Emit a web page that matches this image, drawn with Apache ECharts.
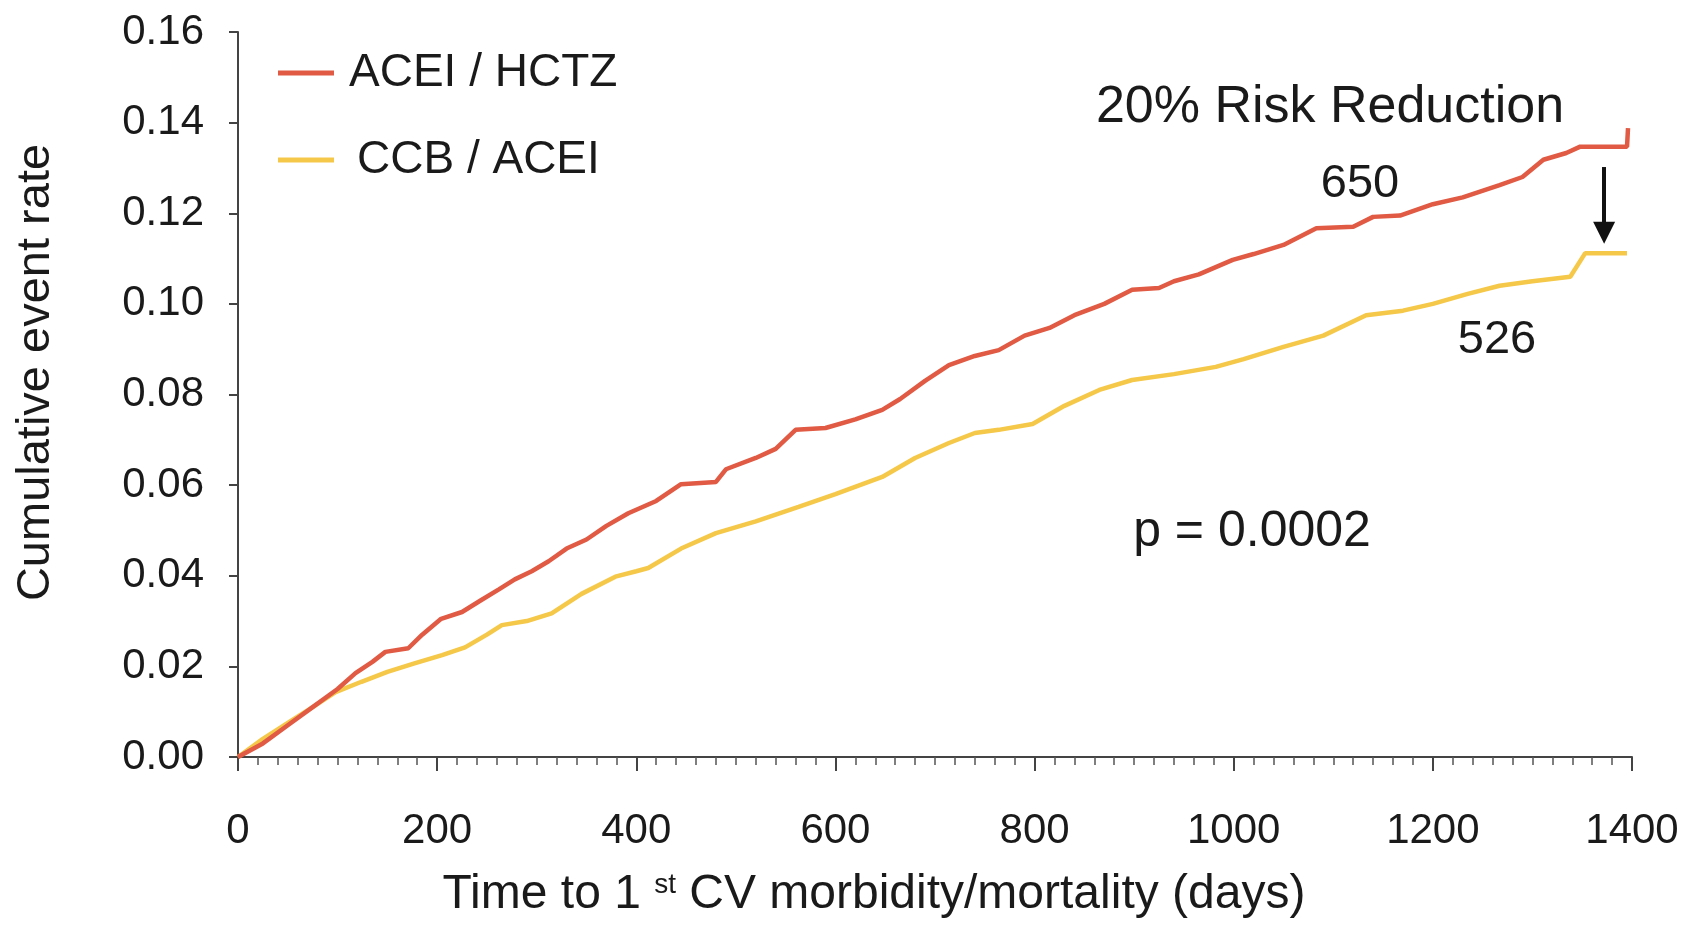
<!DOCTYPE html>
<html>
<head>
<meta charset="utf-8">
<title>Cumulative event rate</title>
<script src="https://cdn.jsdelivr.net/npm/echarts@6/dist/echarts.min.js"></script>
<style>
  html, body { margin: 0; padding: 0; background: #ffffff; }
  #chart { width: 1693px; height: 928px; }
</style>
</head>
<body>
<div id="chart"></div>
<script>
// Cumulative event rates over follow-up for two treatment arms
const seriesNames = ['ACEI / HCTZ', 'CCB / ACEI'];

const daysHCTZ = [0, 25, 50, 75, 100, 118, 135, 148, 171, 185, 204, 225, 244, 262, 278, 295, 312, 330, 350, 370,
  392, 420, 445, 480, 490, 520, 540, 560, 590, 620, 647, 665, 690, 714, 740, 764, 790, 815, 840, 870,
  898, 925, 940, 965, 999, 1020, 1050, 1083, 1120, 1140, 1167, 1200, 1230, 1267, 1290, 1311, 1334, 1348, 1395, 1396];
const rateHCTZ = [0, 0.003, 0.007, 0.011, 0.0150, 0.0185, 0.0210, 0.0232, 0.0240, 0.0270, 0.0305, 0.0320, 0.0346, 0.0370, 0.0392, 0.0410, 0.0432, 0.0460, 0.0480, 0.0510,
  0.0538, 0.0565, 0.0602, 0.0607, 0.0635, 0.0660, 0.0680, 0.0722, 0.0726, 0.0745, 0.0766, 0.0790, 0.0830, 0.0865, 0.0885, 0.0898, 0.0930, 0.0947, 0.0975, 0.1000,
  0.1031, 0.1035, 0.1050, 0.1065, 0.1097, 0.1110, 0.1130, 0.1167, 0.1170, 0.1192, 0.1195, 0.1220, 0.1235, 0.1262, 0.1280, 0.1318, 0.1333, 0.1347, 0.1347, 0.1388];

const daysCCB = [0, 25, 50, 75, 98, 124, 150, 178, 205, 228, 250, 265, 290, 315, 345, 379, 400, 412, 445, 480,
  520, 563, 600, 647, 680, 714, 740, 764, 798, 830, 865, 898, 940, 982, 1010, 1050, 1090, 1133, 1170, 1200,
  1235, 1267, 1300, 1338, 1353, 1395];
const rateCCB = [0, 0.004, 0.0075, 0.011, 0.0143, 0.0166, 0.0188, 0.0207, 0.0225, 0.0242, 0.0270, 0.0291, 0.0300, 0.0317, 0.0360, 0.0398, 0.0410, 0.0417, 0.0460, 0.0494,
  0.0520, 0.0552, 0.0580, 0.0618, 0.0660, 0.0693, 0.0715, 0.0722, 0.0735, 0.0775, 0.0810, 0.0832, 0.0845, 0.0861, 0.0878, 0.0905, 0.0930, 0.0975, 0.0985, 0.1000,
  0.1022, 0.1040, 0.1050, 0.1060, 0.1112, 0.1112];

const xTicks = { min: 0, max: 1400, step: 200 };
const yTicks = { min: 0, max: 0.16, step: 0.02 };

// Arrow between the two curves near the end of follow-up
const arrowDay = 1372;
const arrowFrom = 0.1302;
const arrowTo = 0.1157;

const FONT = "'Liberation Sans', Arial, Helvetica, sans-serif";
const RED = '#e05a44';
const YELLOW = '#f5c84a';

const toPairs = (xs, ys) => xs.map((x, i) => [x, ys[i]]);

const chart = echarts.init(document.getElementById('chart'), null, { renderer: 'canvas' });

chart.setOption({
  animation: false,
  backgroundColor: '#ffffff',
  textStyle: { fontFamily: FONT },
  grid: { left: 238, right: 61, top: 32, bottom: 171, containLabel: false },
  legend: {
    orient: 'vertical',
    left: 273,
    top: 43,
    icon: 'rect',
    itemWidth: 56,
    itemHeight: 5,
    itemGap: 37,
    textStyle: { fontSize: 46, lineHeight: 50, color: '#1a1a1a', fontFamily: FONT, padding: [0, 0, 0, 10] },
    data: [
      { name: seriesNames[0] },
      { name: seriesNames[1], textStyle: { padding: [0, 0, 0, 18] } }
    ]
  },
  xAxis: {
    type: 'value',
    min: xTicks.min,
    max: xTicks.max,
    interval: xTicks.step,
    name: 'Time to 1 {sup|st} CV morbidity/mortality (days)',
    nameLocation: 'middle',
    nameGap: 114,
    nameTextStyle: {
      fontSize: 48,
      color: '#1a1a1a',
      fontFamily: FONT,
      padding: [0, 122, 0, 0],
      rich: {
        sup: { fontSize: 28, verticalAlign: 'top', padding: [0, 0, 18, 0], color: '#1a1a1a', fontFamily: FONT }
      }
    },
    axisLine: { show: true, lineStyle: { color: '#444', width: 2 } },
    axisTick: { show: true, length: 14, lineStyle: { color: '#444', width: 2 } },
    minorTick: { show: true, splitNumber: 10, length: 8, lineStyle: { color: '#555', width: 1.5 } },
    axisLabel: { fontSize: 42, color: '#1a1a1a', margin: 53, fontFamily: FONT, formatter: v => String(v) },
    splitLine: { show: false }
  },
  yAxis: {
    type: 'value',
    min: yTicks.min,
    max: yTicks.max,
    interval: yTicks.step,
    name: 'Cumulative event rate',
    nameLocation: 'middle',
    nameGap: 178,
    nameTextStyle: { fontSize: 47, color: '#1a1a1a', fontFamily: FONT, padding: [0, 0, 0, 44] },
    axisLine: { show: true, lineStyle: { color: '#444', width: 2 } },
    axisTick: { show: true, length: 9, lineStyle: { color: '#444', width: 2 } },
    axisLabel: {
      fontSize: 42, color: '#1a1a1a', margin: 34, fontFamily: FONT,
      formatter: v => v.toFixed(2)
    },
    splitLine: { show: false }
  },
  series: [
    {
      name: seriesNames[0],
      type: 'line',
      showSymbol: false,
      color: RED,
      lineStyle: { color: RED, width: 4.5 },
      data: toPairs(daysHCTZ, rateHCTZ),
      z: 3
    },
    {
      name: seriesNames[1],
      type: 'line',
      showSymbol: false,
      color: YELLOW,
      lineStyle: { color: YELLOW, width: 4.5 },
      data: toPairs(daysCCB, rateCCB),
      z: 2,
      markLine: {
        silent: true,
        symbol: ['none', 'triangle'],
        symbolSize: [22, 22],
        label: { show: false },
        lineStyle: { color: '#111', width: 4, type: 'solid' },
        data: [[{ coord: [arrowDay, arrowFrom] }, { coord: [arrowDay, arrowTo] }]]
      }
    }
  ],
  graphic: [
    {
      type: 'text', x: 1330, y: 108,
      style: { text: '20% Risk Reduction', fontSize: 52, fontFamily: FONT, fill: '#1a1a1a', align: 'center', verticalAlign: 'middle' }
    },
    {
      type: 'text', x: 1360, y: 184,
      style: { text: '650', fontSize: 47, fontFamily: FONT, fill: '#1a1a1a', align: 'center', verticalAlign: 'middle' }
    },
    {
      type: 'text', x: 1497, y: 340,
      style: { text: '526', fontSize: 47, fontFamily: FONT, fill: '#1a1a1a', align: 'center', verticalAlign: 'middle' }
    },
    {
      type: 'text', x: 1252, y: 532,
      style: { text: 'p = 0.0002', fontSize: 50, fontFamily: FONT, fill: '#1a1a1a', align: 'center', verticalAlign: 'middle' }
    }
  ]
});
</script>
</body>
</html>
